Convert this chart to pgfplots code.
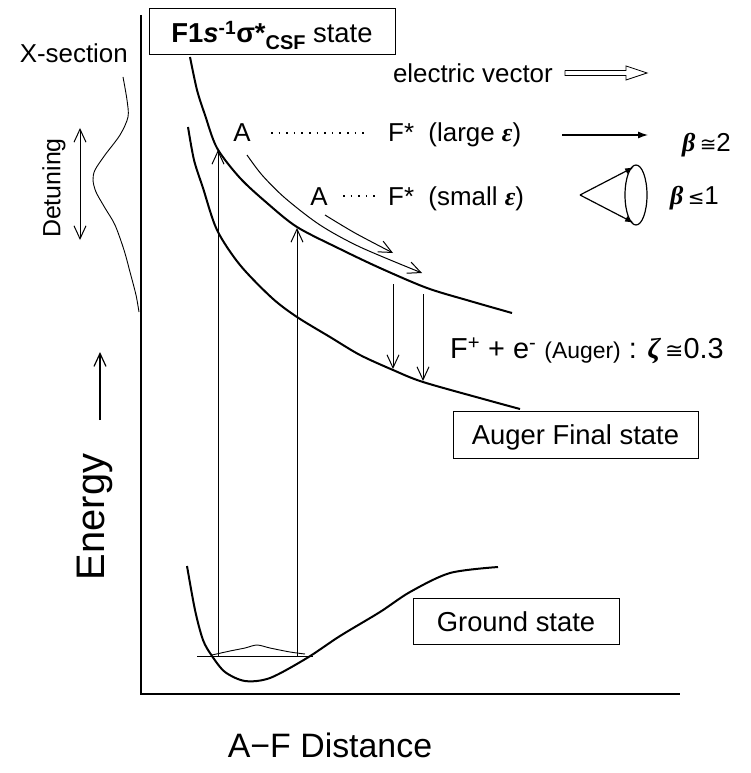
\documentclass[border=0pt]{standalone}
\usepackage{pgfplots}
\pgfplotsset{compat=1.18}
\usepackage{fontspec}
\setmainfont{Liberation Sans}
\newfontfamily\grk{Liberation Serif}
\newfontfamily\sym{DejaVu Sans}
\usetikzlibrary{arrows.meta}
\newcommand{\bgr}[1]{{\grk\bfseries\itshape #1}}
\tikzset{
  lab/.style={font=\fontsize{26}{30}\selectfont, inner sep=0pt},
  boxlab/.style={font=\fontsize{27.5}{32}\selectfont, inner sep=0pt},
  barb/.style={-{Straight Barb[length=13bp,width=12bp]}},
}
\begin{document}
\begin{tikzpicture}
\begin{axis}[
  width=751bp, height=773bp, scale only axis,
  xmin=0, xmax=751, ymin=0, ymax=773, y dir=reverse,
  axis lines=none, clip=false,
  every axis plot/.append style={black, no markers},
]
\path (axis cs:0,0) rectangle (axis cs:751,773);
% frame (axes)
\addplot[line width=2.4bp] coordinates {(141,15) (141,694) (680,694)};
% X-section profile
\addplot[line width=0.9bp, smooth] coordinates {(123,77) (127,100) (128,117) (120,135) (105,155) (95,170) (93,180) (96,192) (105,208) (115,225) (124,250) (130,272) (136,295) (139,312)};
% upper repulsive state
\addplot[line width=2bp, smooth] coordinates {(190,57) (197,90) (205,115) (217,148) (240,178) (267,203) (297,227) (340,249) (380,268) (427,288) (470,301) (512,313)};
% Auger final state
\addplot[line width=2bp, smooth] coordinates {(188,127) (194,160) (203,188) (217,230) (240,265) (272,298) (297,317) (330,337) (360,355) (393,370) (423,382) (487,400) (520,409)};
% ground state
\addplot[line width=2bp, smooth] coordinates {(187,566) (195,610) (203,640) (212,656) (225,672) (245,681) (270,678) (307,658) (340,636) (380,612) (410,592) (450,573) (498,567)};
% vibrational level and wavefunction
\addplot[line width=0.9bp] coordinates {(197,656) (313,656)};
\addplot[line width=0.9bp, smooth] coordinates {(212,655) (230,651) (245,648) (257,645) (270,648) (290,652) (305,654)};
% excitation arrows
\addplot[line width=1bp, barb] coordinates {(218,656) (218,150)};
\addplot[line width=1bp, barb] coordinates {(297,656) (297,228)};
% Auger decay arrows
\addplot[line width=1bp, barb] coordinates {(393,284) (393,369)};
\addplot[line width=1bp, barb] coordinates {(423,294) (423,381)};
% curved dissociation arrows
\addplot[line width=1bp, smooth, barb] coordinates {(247,155) (262,175) (285,198) (320,225) (360,247) (422,273)};
\addplot[line width=1bp, smooth, barb] coordinates {(325,215) (355,233) (393,253)};
% dotted A...F* lines
\addplot[line width=1.3bp, dash pattern=on 1.6bp off 6bp] coordinates {(271,133) (367,133)};
\addplot[line width=1.3bp, dash pattern=on 1.6bp off 6bp] coordinates {(343,196) (375,196)};
% detuning double arrow
\addplot[line width=1bp, {Straight Barb[length=13bp,width=12bp]}-{Straight Barb[length=13bp,width=12bp]}] coordinates {(80,128) (80,240)};
% energy arrow
\addplot[line width=1.2bp, barb] coordinates {(100,420) (100,352)};
% electric vector hollow arrow
\addplot[line width=0.8bp] coordinates {(565,70.5) (626,70.5) (626,66) (647,73) (626,80) (626,75.5) (565,75.5) (565,70.5)};
% large epsilon arrow
\addplot[line width=1.2bp, -{Latex[length=10bp,width=7bp]}] coordinates {(562,135) (648,135)};
% cone
\addplot[line width=1.2bp, -{Latex[length=9bp,width=6bp]}] coordinates {(580,195) (634,167)};
\addplot[line width=1.2bp, -{Latex[length=9bp,width=6bp]}] coordinates {(580,195) (634,223)};
\draw[line width=1.2bp] (axis cs:636,195) ellipse [x radius=11, y radius=30];

% boxes
\node[draw, line width=1bp, minimum width=246bp, minimum height=46bp, inner sep=0pt] at (axis cs:272,32) {};
\node[boxlab, anchor=base] at (axis cs:272,43) {{\bfseries F1{\itshape s}\textsuperscript{-1}σ*\raisebox{-0.45ex}{\fontsize{20}{22}\selectfont CSF}} state};
\node[draw, line width=1bp, minimum width=245bp, minimum height=47bp, inner sep=0pt] at (axis cs:575.5,434.5) {};
\node[boxlab, anchor=base] at (axis cs:575.5,444) {Auger Final state};
\node[draw, line width=1bp, minimum width=206bp, minimum height=46bp, inner sep=0pt] at (axis cs:516,621) {};
\node[boxlab, anchor=base] at (axis cs:516,631) {Ground state};

% labels
\node[lab, anchor=base east] at (axis cs:128,63) {X-section};
\node[lab, anchor=base east] at (axis cs:553,83) {electric vector};
\node[lab, anchor=base] at (axis cs:242,142) {A};
\node[lab, anchor=base west] at (axis cs:388,142) {F*\ \ (large \bgr{ε})};
\node[lab, anchor=base] at (axis cs:319,206) {A};
\node[lab, anchor=base west] at (axis cs:388,206) {F*\ \ (small \bgr{ε})};
\node[lab, anchor=base west] at (axis cs:682,152) {\bgr{β}\,{\sym\fontsize{20}{24}\selectfont ≅}2};
\node[lab, anchor=base west] at (axis cs:670,205) {\bgr{β}\,{\sym\fontsize{20}{24}\selectfont ≤}1};
\node[font=\fontsize{29}{32}\selectfont, inner sep=0pt, anchor=base west] at (axis cs:450,358) {F\textsuperscript{+} + e\textsuperscript{-} {\fontsize{23}{26}\selectfont (Auger)} : \bgr{ζ}\,{\sym\fontsize{22}{26}\selectfont ≅}0.3};
\node[font=\fontsize{25}{28}\selectfont, inner sep=0pt, rotate=90] at (axis cs:54,188) {Detuning};
\node[font=\fontsize{40}{44}\selectfont, inner sep=0pt, rotate=90] at (axis cs:95,517) {Energy};
\node[font=\fontsize{34}{38}\selectfont, inner sep=0pt, anchor=base] at (axis cs:330,757) {A−F Distance};
\end{axis}
\end{tikzpicture}
\end{document}
